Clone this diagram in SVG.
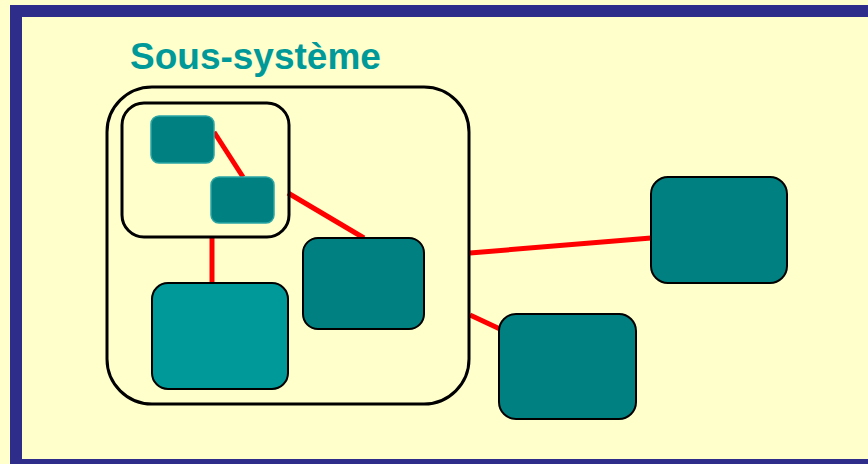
<svg xmlns="http://www.w3.org/2000/svg" width="868" height="464" viewBox="0 0 868 464">
<style>
.bg{fill:#FFFFCC}
.frame{fill:none;stroke:#2E2E8A;stroke-width:12}
.cont{fill:none;stroke:#000;stroke-width:3}
.node{fill:#008080;stroke:#000;stroke-width:2}
.light{fill:#009999;stroke:#000;stroke-width:2}
.small{fill:#008080;stroke:#2AA5A5;stroke-width:1.5}
.link{stroke:#FF0000;stroke-width:5;fill:none}
.title{font-family:"Liberation Sans",Arial,sans-serif;font-weight:bold;font-size:37px;fill:#009999}
</style>
<rect class="bg" x="0" y="0" width="868" height="464"/>
<rect class="frame" x="16" y="11" width="900" height="454"/>
<text class="title" x="130" y="69">Sous-système</text>
<g id="connectors">
<line class="link" x1="214" y1="132" x2="243" y2="177"/>
<line class="link" x1="288" y1="193" x2="364" y2="238"/>
<line class="link" x1="212" y1="238" x2="212" y2="283"/>
<line class="link" x1="470" y1="253" x2="651" y2="238"/>
<line class="link" x1="470" y1="315" x2="500" y2="329"/>
</g>
<g id="subsystem"><rect class="cont" x="107" y="87" width="362" height="317" rx="45" ry="45"/></g>
<g id="inner"><rect class="cont" x="122" y="103" width="167" height="134" rx="22" ry="22"/></g>
<g id="small1"><rect class="small" x="151" y="116" width="63" height="47" rx="8" ry="8"/></g>
<g id="small2"><rect class="small" x="211" y="177" width="63" height="46" rx="8" ry="8"/></g>
<g id="large"><rect class="light" x="152" y="283" width="136" height="106" rx="16" ry="16"/></g>
<g id="medium"><rect class="node" x="303" y="238" width="121" height="91" rx="15" ry="15"/></g>
<g id="right"><rect class="node" x="651" y="177" width="136" height="106" rx="17" ry="17"/></g>
<g id="bottom"><rect class="node" x="499" y="314" width="137" height="105" rx="17" ry="17"/></g>
</svg>
